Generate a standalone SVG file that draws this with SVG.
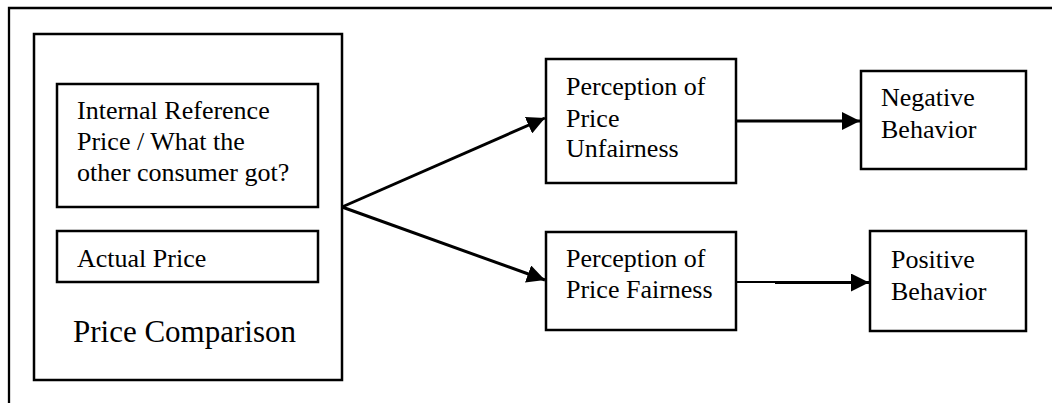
<svg xmlns="http://www.w3.org/2000/svg" width="1052" height="403" viewBox="0 0 1052 403">
<defs>
<style>
.box{fill:#fff;stroke:#000;stroke-width:2.5}
text{font-family:'Liberation Serif','DejaVu Serif',serif;font-size:26px;fill:#000}
.big{font-size:31px}
.c{stroke:#000;stroke-width:3;fill:none}
</style>
<marker id="ah" viewBox="0 0 10 10" refX="10" refY="5" markerWidth="6" markerHeight="6" markerUnits="strokeWidth" orient="auto">
<path d="M0,0 L10,5 L0,10 Z" fill="#000"/>
</marker>
</defs>
<rect width="1052" height="403" fill="#fff"/>
<g id="frame">
<path d="M9,403 V8 H1052" fill="none" stroke="#000" stroke-width="2.3"/>
</g>
<g font-family="Liberation Serif, serif">
<g id="price-comparison">
<rect class="box" x="34" y="34" width="308" height="346"/>
<text class="big" x="73" y="342">Price Comparison</text>
</g>
<g id="internal-reference">
<rect class="box" x="57" y="84" width="261" height="123"/>
<text x="77" y="119">Internal Reference</text>
<text x="77" y="150">Price / What the</text>
<text x="77" y="181">other consumer got?</text>
</g>
<g id="actual-price">
<rect class="box" x="57" y="231" width="261" height="51"/>
<text x="77" y="267">Actual Price</text>
</g>
<g id="unfairness">
<rect class="box" x="546" y="59" width="190" height="124"/>
<text x="566" y="95">Perception of</text>
<text x="566" y="127">Price</text>
<text x="566" y="157">Unfairness</text>
</g>
<g id="fairness">
<rect class="box" x="546" y="232" width="190" height="98"/>
<text x="566" y="267">Perception of</text>
<text x="566" y="298">Price Fairness</text>
</g>
<g id="negative">
<rect class="box" x="861" y="71" width="165" height="98"/>
<text x="881" y="106">Negative</text>
<text x="881" y="138">Behavior</text>
</g>
<g id="positive">
<rect class="box" x="870" y="231" width="156" height="100"/>
<text x="891" y="268">Positive</text>
<text x="891" y="300">Behavior</text>
</g>
</g>
<g id="connectors">
<line class="c" x1="342" y1="207" x2="545" y2="118" marker-end="url(#ah)"/>
<line class="c" x1="342" y1="207" x2="545" y2="280" marker-end="url(#ah)"/>
<line class="c" x1="737" y1="121" x2="860" y2="121" marker-end="url(#ah)"/>
<line x1="737" y1="282" x2="776" y2="282" stroke="#000" stroke-width="2"/>
<line class="c" x1="775" y1="282.5" x2="869" y2="282.5" marker-end="url(#ah)"/>
</g>
</svg>
